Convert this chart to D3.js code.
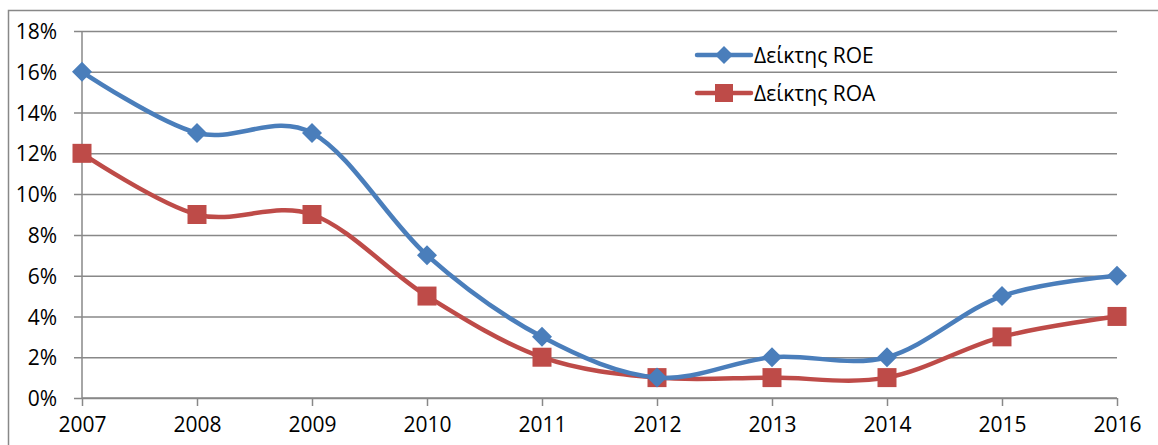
<!DOCTYPE html>
<html>
<head>
<meta charset="utf-8">
<script src="https://cdn.jsdelivr.net/npm/d3@7/dist/d3.min.js"></script>
<style>
  html, body { margin: 0; padding: 0; background: #fff; }
  svg { display: block; }
  text { font-family: "Open Sans", sans-serif; fill: #000; }
</style>
</head>
<body>
<svg id="chart" width="1158" height="445"></svg>
<script>
// Financial ratios by year
const years = ["2007", "2008", "2009", "2010", "2011", "2012", "2013", "2014", "2015", "2016"];
const roe = [16, 13, 13, 7, 3, 1, 2, 2, 5, 6];
const roa = [12, 9, 9, 5, 2, 1, 1, 1, 3, 4];
const yTicks = [0, 2, 4, 6, 8, 10, 12, 14, 16, 18];
const seriesNames = ["Δείκτης ROE", "Δείκτης ROA"];

const plot = { left: 82, right: 1117, top: 31, bottom: 398 };
const blue = "#4A7EBB", red = "#BE4B48", grid = "#888888";

const svg = d3.select("#chart");

// outer chart frame
svg.append("rect")
  .attr("x", 8.5).attr("y", 10.5)
  .attr("width", 1200).attr("height", 500)
  .attr("fill", "none").attr("stroke", grid).attr("stroke-width", 1.5);

const x = d3.scalePoint().domain(years).range([plot.left, plot.right]);
const y = d3.scaleLinear().domain([0, 18]).range([plot.bottom, plot.top]);

// horizontal gridlines + y labels
const yAxis = d3.axisLeft(y)
  .tickValues(yTicks)
  .tickFormat(d => d + "%")
  .tickSize(-(plot.right - plot.left))
  .tickPadding(0);
const gy = svg.append("g").attr("transform", `translate(${plot.left},0)`).call(yAxis);
gy.select(".domain").remove();
gy.selectAll(".tick line")
  .attr("x1", -8)
  .attr("stroke", grid).attr("stroke-width", 1.5);
gy.selectAll(".tick text")
  .attr("x", -25)
  .attr("dy", "0.36em")
  .style("font-size", "21px")
  .style("font-family", "'Open Sans', sans-serif")
  .attr("fill", "#000");

// vertical axis line
svg.append("line")
  .attr("x1", plot.left).attr("x2", plot.left)
  .attr("y1", plot.top).attr("y2", plot.bottom)
  .attr("stroke", grid).attr("stroke-width", 1.5);

// x axis with ticks
const xAxis = d3.axisBottom(x).tickSize(8).tickPadding(11);
const gx = svg.append("g").attr("transform", `translate(0,${plot.bottom})`).call(xAxis);
gx.select(".domain").attr("stroke", grid).attr("stroke-width", 1.5)
  .attr("d", `M${plot.left},0H${plot.right}`);
gx.selectAll(".tick line").attr("stroke", grid).attr("stroke-width", 1.5);
gx.selectAll(".tick text")
  .style("font-size", "21px")
  .style("font-family", "'Open Sans', sans-serif")
  .attr("fill", "#000");

const line = d3.line()
  .x((d, i) => x(years[i]))
  .y(d => y(d))
  .curve(d3.curveCatmullRom.alpha(0));

const diamond = s => `M0,${-s}L${s},0L0,${s}L${-s},0Z`;
const square = s => `M${-s},${-s}H${s}V${s}H${-s}Z`;

function drawSeries(values, color, shape) {
  svg.append("path")
    .datum(values)
    .attr("d", line)
    .attr("fill", "none")
    .attr("stroke", color)
    .attr("stroke-width", 4.5)
    .attr("stroke-linejoin", "round");
  svg.append("g").selectAll("path")
    .data(values)
    .join("path")
    .attr("transform", (d, i) => `translate(${x(years[i])},${y(d)})`)
    .attr("d", shape)
    .attr("fill", color);
}

drawSeries(roa, red, square(9.5));
drawSeries(roe, blue, diamond(10));

// legend
const legend = [
  { name: seriesNames[0], color: blue, shape: diamond(9), cy: 55 },
  { name: seriesNames[1], color: red, shape: square(9), cy: 93 }
];
const lg = svg.append("g");
legend.forEach(l => {
  lg.append("line")
    .attr("x1", 697).attr("x2", 751)
    .attr("y1", l.cy).attr("y2", l.cy)
    .attr("stroke", l.color).attr("stroke-width", 4.5)
    .attr("stroke-linecap", "round");
  lg.append("path")
    .attr("transform", `translate(724,${l.cy})`)
    .attr("d", l.shape)
    .attr("fill", l.color);
  lg.append("text")
    .attr("x", 754).attr("y", l.cy)
    .attr("dy", "0.36em")
    .style("font-size", "21px")
    .text(l.name);
});
</script>
</body>
</html>
